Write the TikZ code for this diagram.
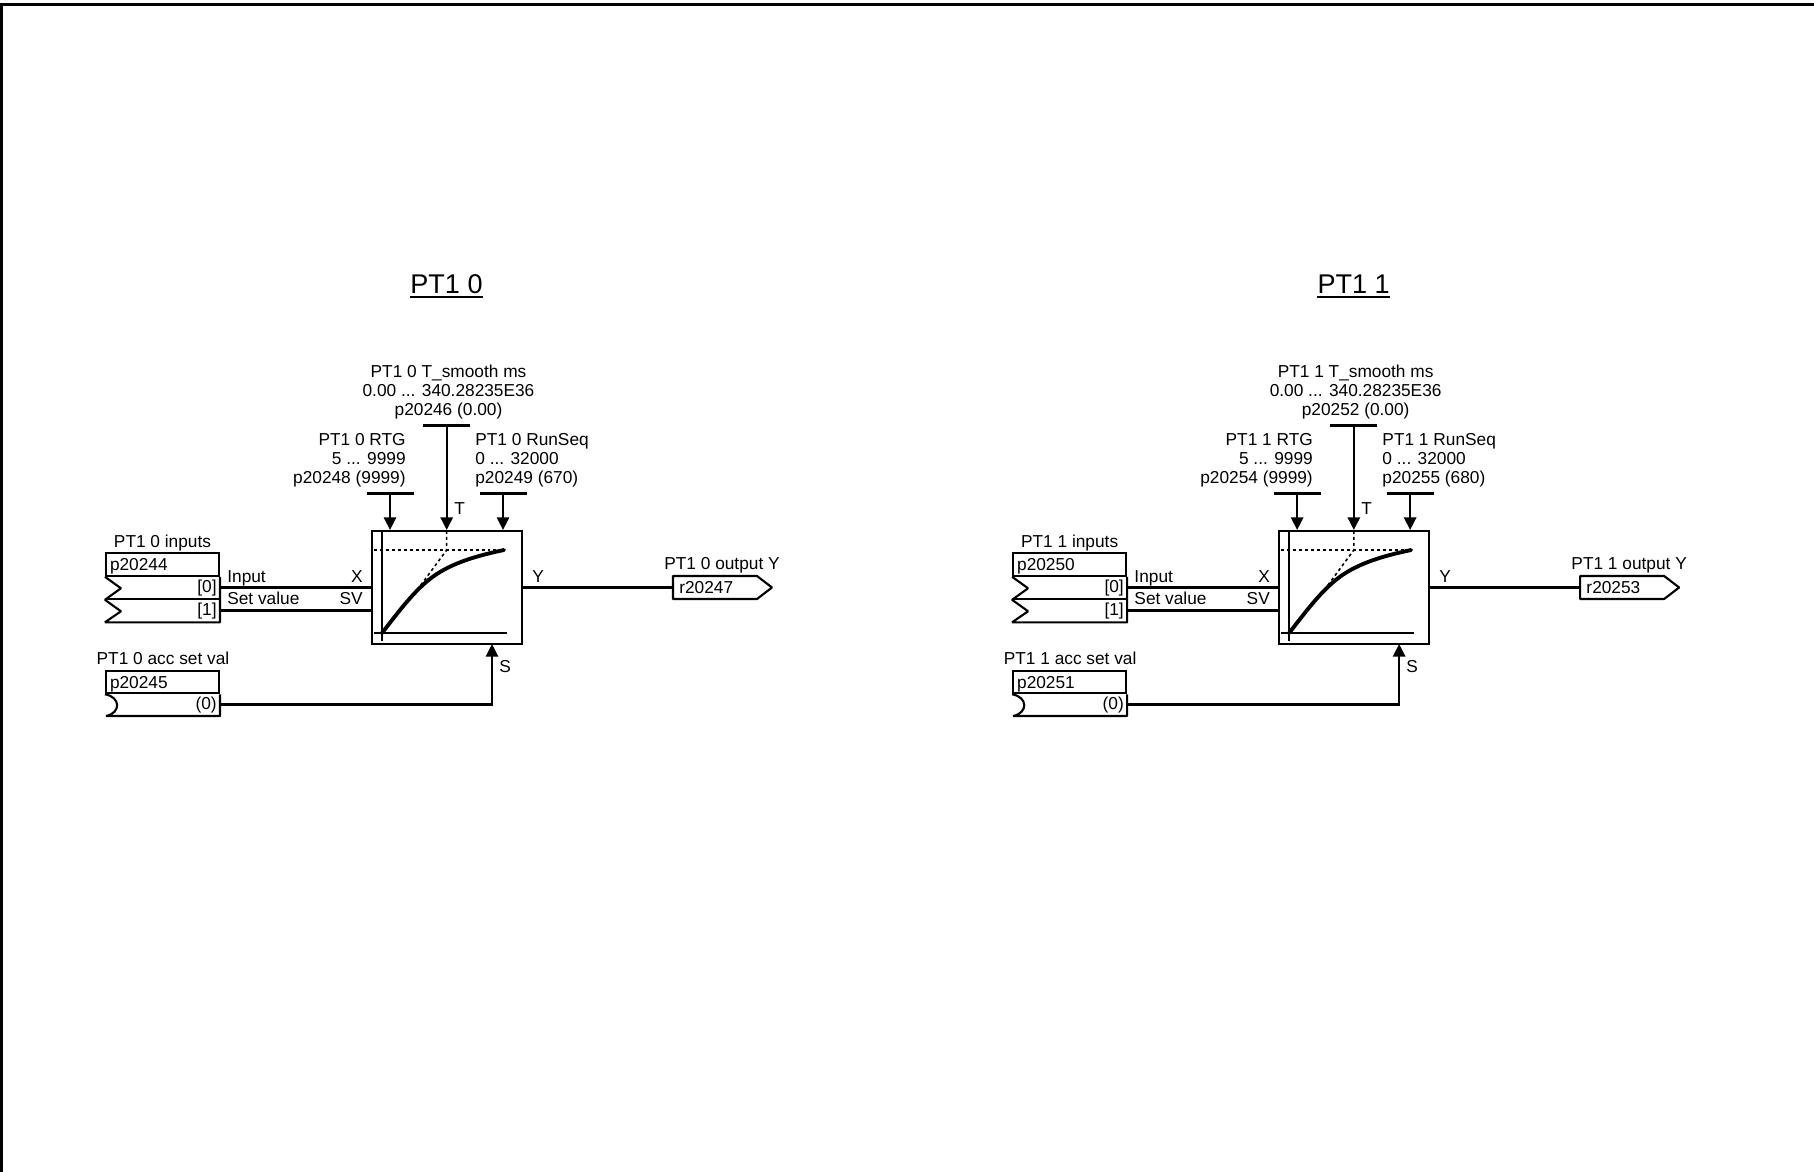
\documentclass[tikz,border=0pt]{standalone}
\usepackage{fontspec}
\setmainfont{Liberation Sans}
\usetikzlibrary{arrows.meta, calc}

\begin{document}
\begin{tikzpicture}[
  x=0.02cm, y=-0.02cm,
  txt/.style={inner sep=0pt, align=center, font=\fontsize{9.84}{10.8}\selectfont},
  txtl/.style={txt, anchor=west, align=left},
  txtr/.style={txt, anchor=east, align=right},
  title/.style={inner sep=0pt, font=\fontsize{15.4}{18}\selectfont},
  block/.style={draw, line width=1.2pt, minimum width=3cm, minimum height=2.26cm},
  cell/.style={draw, line width=1.2pt, minimum width=2.26cm, minimum height=0.45cm, inner xsep=0.08cm, text width=2.1cm, align=left, font=\fontsize{9.84}{10.8}\selectfont, inner ysep=0pt, text height=7pt, text depth=0pt},
  wire/.style={line width=1.2pt},
  shp/.style={line width=1.2pt, line join=bevel},
  axis/.style={line width=1.05pt},
  dots/.style={line width=0.9pt, dash pattern=on 1.7pt off 1.7pt},
  curve/.style={line width=2.2pt, line cap=round},
  arr/.style={-{Triangle[length=7.2pt, width=7pt]}, line width=1.25pt},
]
\useasboundingbox (0,0) rectangle (1814,1172);

% ===== sheet frame (top and left only) =====
\draw[line width=1.7pt] (1.2,1172) -- (1.2,4.5) -- (1814,4.5);

% ===== PT1 0 =====
\node[title] (title0) at (446.5,284) {PT1 0};
\draw[wire] ([yshift=-1.9pt]title0.south west) -- ([yshift=-1.9pt]title0.south east);

\node[block] (blk0) at (447,587.5) {};

% step response inside the block
\draw[axis] (382,531) -- (382,641);
\draw[axis] (374,633) -- (507,633);
\draw[dots] (374,550) -- (504,550);
\draw[dots] (446.7,531) -- (446.7,550) -- (412,597);
\draw[curve] (382,633) .. controls (400,610) and (418,585) .. (440,572) .. controls (460,560) and (485,554) .. (504,550);

% parameters on top
\node[txt] (tsm0) at (448.5,392) {PT1 0 T\_smooth ms\\0.00 ... 340.28235E36\\p20246 (0.00)};
\node[txtr] (rtg0) at (406,460) {PT1 0 RTG\\5 ... 9999\\p20248 (9999)};
\node[txtl] (seq0) at (475,460) {PT1 0 RunSeq\\0 ... 32000\\p20249 (670)};

\coordinate (tsmb0) at (446.7,425.5);
\coordinate (rtgb0) at (390,493.5);
\coordinate (seqb0) at (503,493.5);
\draw[wire] (tsmb0) ++(-23.5,0) -- ++(47,0);
\draw[wire] (rtgb0) ++(-23.5,0) -- ++(47,0);
\draw[wire] (seqb0) ++(-23.5,0) -- ++(47,0);
\draw[arr] (tsmb0) -- (tsmb0 |- blk0.north);
\draw[arr] (rtgb0) -- (rtgb0 |- blk0.north);
\draw[arr] (seqb0) -- (seqb0 |- blk0.north);
\node[txtl] (lt0) at (454,508.5) {T};

% inputs
\node[txt] (inl0) at (162.5,543) {PT1 0 inputs};
\node[cell] (in0) at (162.5,564.5) {p20244};
\draw[shp] (in0.south west) -- ++(16,11.5) -- ++(-16,11.5) -- ++(16,11.5) -- ++(-16,11) -| (in0.south east);
\draw[shp] (106,599) -- (219,599);
\node[txtr] (i00) at (217,588.5) {[0]};
\node[txtr] (i10) at (217,611.5) {[1]};
\coordinate (xin0) at (219,587.5);
\coordinate (svin0) at (219,610.5);
\draw[wire] (xin0) -- (xin0 -| blk0.west);
\draw[wire] (svin0) -- (svin0 -| blk0.west);
\node[txtl] (linp0) at (227,578) {Input};
\node[txtl] (lset0) at (227,598.5) {Set value};
\node[txtr] (lx0) at (363,577) {X};
\node[txtr] (lsv0) at (363,598.5) {SV};

% accept set value
\node[txt] (accl0) at (163,658.5) {PT1 0 acc set val};
\node[cell] (acc0) at (162.5,682) {p20245};
\draw[shp] (acc0.south west) .. controls (121,697) and (121,713) .. (106,716) -| (acc0.south east);
\node[txtr] (a00) at (217,705.5) {(0)};
\coordinate (sin0) at (219,704.5);
\coordinate (sblk0) at (492,644);
\draw[arr] (sin0) -| (sblk0);
\node[txtl] (ls0) at (499,667) {S};

% output
\node[txtl] (ly0) at (532,576.5) {Y};
\coordinate (yout0) at (673,587.5);
\draw[wire] (blk0.east |- yout0) -- (yout0);
\draw[shp] (673,576) -- (757,576) -- (772,587.5) -- (757,599) -- (673,599) -- cycle;
\node[txtl] (r0) at (679,588) {r20247};
\node[txt] (outl0) at (722,565) {PT1 0 output Y};

% ===== PT1 1 =====
\begin{scope}[xshift=18.146cm]
\node[title] (title1) at (446.5,284) {PT1 1};
\draw[wire] ([yshift=-1.9pt]title1.south west) -- ([yshift=-1.9pt]title1.south east);

\node[block] (blk1) at (447,587.5) {};

% step response inside the block
\draw[axis] (382,531) -- (382,641);
\draw[axis] (374,633) -- (507,633);
\draw[dots] (374,550) -- (504,550);
\draw[dots] (446.7,531) -- (446.7,550) -- (412,597);
\draw[curve] (382,633) .. controls (400,610) and (418,585) .. (440,572) .. controls (460,560) and (485,554) .. (504,550);

% parameters on top
\node[txt] (tsm1) at (448.5,392) {PT1 1 T\_smooth ms\\0.00 ... 340.28235E36\\p20252 (0.00)};
\node[txtr] (rtg1) at (406,460) {PT1 1 RTG\\5 ... 9999\\p20254 (9999)};
\node[txtl] (seq1) at (475,460) {PT1 1 RunSeq\\0 ... 32000\\p20255 (680)};

\coordinate (tsmb1) at (446.7,425.5);
\coordinate (rtgb1) at (390,493.5);
\coordinate (seqb1) at (503,493.5);
\draw[wire] (tsmb1) ++(-23.5,0) -- ++(47,0);
\draw[wire] (rtgb1) ++(-23.5,0) -- ++(47,0);
\draw[wire] (seqb1) ++(-23.5,0) -- ++(47,0);
\draw[arr] (tsmb1) -- (tsmb1 |- blk1.north);
\draw[arr] (rtgb1) -- (rtgb1 |- blk1.north);
\draw[arr] (seqb1) -- (seqb1 |- blk1.north);
\node[txtl] (lt1) at (454,508.5) {T};

% inputs
\node[txt] (inl1) at (162.5,543) {PT1 1 inputs};
\node[cell] (in1) at (162.5,564.5) {p20250};
\draw[shp] (in1.south west) -- ++(16,11.5) -- ++(-16,11.5) -- ++(16,11.5) -- ++(-16,11) -| (in1.south east);
\draw[shp] (106,599) -- (219,599);
\node[txtr] (i01) at (217,588.5) {[0]};
\node[txtr] (i11) at (217,611.5) {[1]};
\coordinate (xin1) at (219,587.5);
\coordinate (svin1) at (219,610.5);
\draw[wire] (xin1) -- (xin1 -| blk1.west);
\draw[wire] (svin1) -- (svin1 -| blk1.west);
\node[txtl] (linp1) at (227,578) {Input};
\node[txtl] (lset1) at (227,598.5) {Set value};
\node[txtr] (lx1) at (363,577) {X};
\node[txtr] (lsv1) at (363,598.5) {SV};

% accept set value
\node[txt] (accl1) at (163,658.5) {PT1 1 acc set val};
\node[cell] (acc1) at (162.5,682) {p20251};
\draw[shp] (acc1.south west) .. controls (121,697) and (121,713) .. (106,716) -| (acc1.south east);
\node[txtr] (a01) at (217,705.5) {(0)};
\coordinate (sin1) at (219,704.5);
\coordinate (sblk1) at (492,644);
\draw[arr] (sin1) -| (sblk1);
\node[txtl] (ls1) at (499,667) {S};

% output
\node[txtl] (ly1) at (532,576.5) {Y};
\coordinate (yout1) at (673,587.5);
\draw[wire] (blk1.east |- yout1) -- (yout1);
\draw[shp] (673,576) -- (757,576) -- (772,587.5) -- (757,599) -- (673,599) -- cycle;
\node[txtl] (r1) at (679,588) {r20253};
\node[txt] (outl1) at (722,565) {PT1 1 output Y};
\end{scope}

\end{tikzpicture}
\end{document}
